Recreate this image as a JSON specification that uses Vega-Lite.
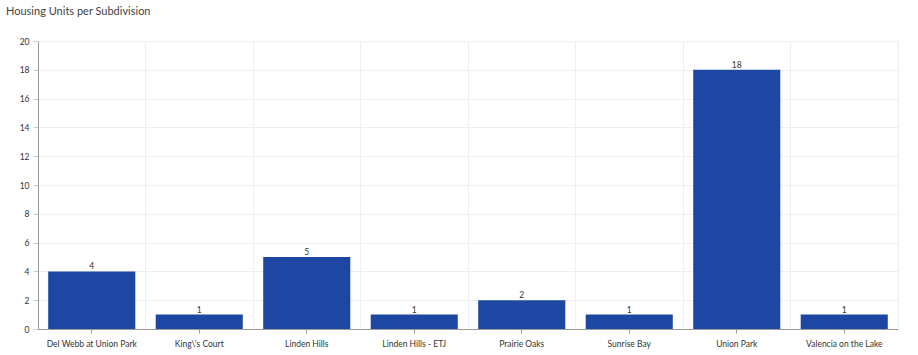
{
  "$schema": "https://vega.github.io/schema/vega-lite/v6.json",
  "width": 860,
  "height": 288,
  "autosize": {"type": "none"},
  "padding": {"left": 38, "top": 41, "right": 20, "bottom": 26},
  "background": "white",
  "title": {
    "text": "Housing Units per Subdivision",
    "anchor": "start",
    "frame": "group",
    "dx": -32,
    "offset": 20,
    "fontSize": 11,
    "font": "Lato",
    "fontWeight": "normal",
    "color": "#444444"
  },
  "config": {
    "view": {"stroke": "#eeeeee"},
    "axis": {"labelFont": "Lato", "labelFontSize": 8.5, "labelColor": "#333333"}
  },
  "data": {
    "values": [
      {"subdivision": "Del Webb at Union Park", "units": 4},
      {"subdivision": "King\\'s Court", "units": 1},
      {"subdivision": "Linden Hills", "units": 5},
      {"subdivision": "Linden Hills - ETJ", "units": 1},
      {"subdivision": "Prairie Oaks", "units": 2},
      {"subdivision": "Sunrise Bay", "units": 1},
      {"subdivision": "Union Park", "units": 18},
      {"subdivision": "Valencia on the Lake", "units": 1}
    ]
  },
  "encoding": {
    "x": {
      "field": "subdivision",
      "type": "nominal",
      "sort": null,
      "scale": {"paddingInner": 0.19, "paddingOuter": 0.095}
    },
    "y": {
      "field": "units",
      "type": "quantitative",
      "title": null,
      "scale": {"domain": [0, 20]},
      "axis": {
        "values": [0, 2, 4, 6, 8, 10, 12, 14, 16, 18, 20],
        "labelOverlap": false,
        "gridColor": "#eeeeee",
        "domainColor": "#999999",
        "tickColor": "#cccccc",
        "tickSize": 5,
        "labelPadding": 4
      }
    }
  },
  "layer": [
    {
      "mark": {"type": "bar", "color": "#1E47A3"},
      "encoding": {
        "x": {
          "field": "subdivision",
          "type": "nominal",
          "sort": null,
          "title": null,
          "axis": {
            "labelAngle": 0,
            "grid": false,
            "domainColor": "#999999",
            "tickColor": "#999999",
            "tickSize": 4,
            "labelPadding": 6
          }
        }
      }
    },
    {
      "mark": {"type": "text", "dy": -5, "fontSize": 8.5, "font": "Lato", "color": "#333333"},
      "encoding": {
        "text": {"field": "units", "type": "quantitative"},
        "x": {
          "field": "subdivision",
          "type": "nominal",
          "sort": null,
          "title": null,
          "axis": {
            "grid": true,
            "bandPosition": -0.117,
            "gridColor": "#eeeeee",
            "labels": false,
            "ticks": false,
            "domain": false
          }
        }
      }
    }
  ],
  "resolve": {"axis": {"x": "independent"}}
}
